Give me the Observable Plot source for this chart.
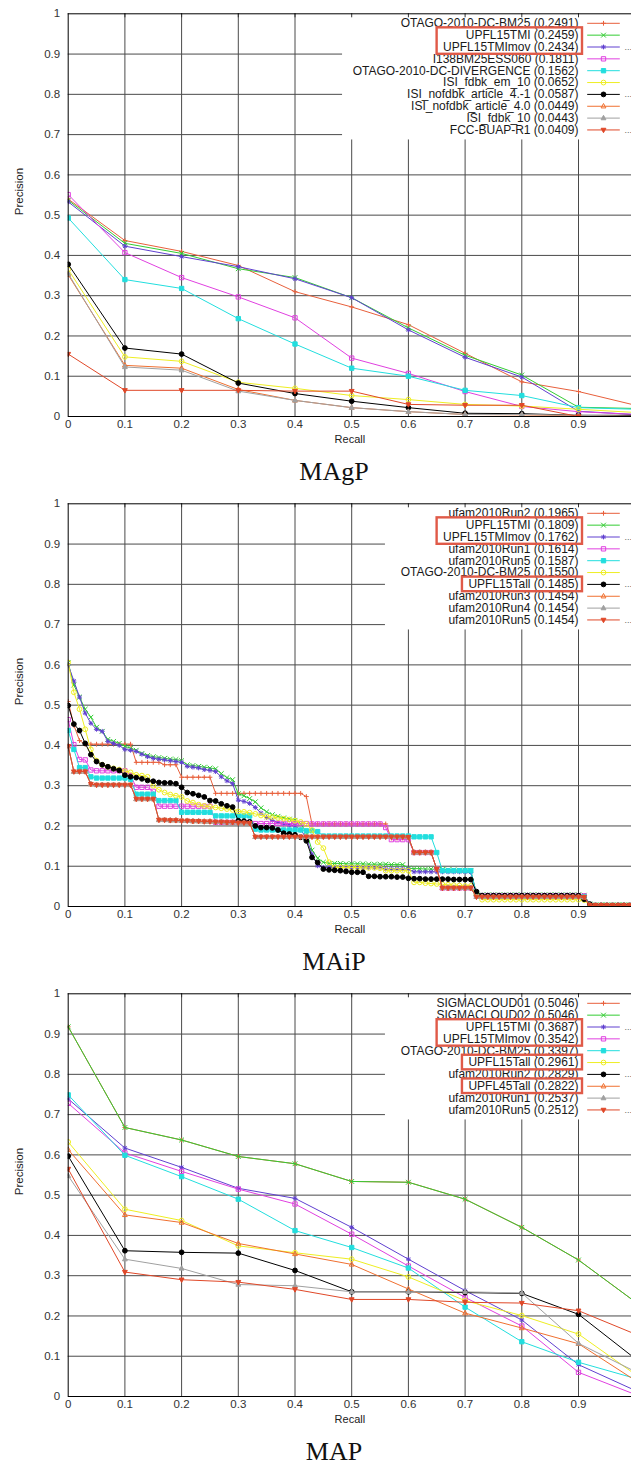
<!DOCTYPE html>
<html>
<head>
<meta charset="utf-8">
<script src="https://cdn.jsdelivr.net/npm/d3@7"></script>
<script src="https://cdn.jsdelivr.net/npm/@observablehq/plot@0.6"></script>
<style>
html, body { margin:0; padding:0; background:#fff; overflow:hidden; }
#root { width:631px; }
.panel { position:relative; width:631px; height:490px; overflow:hidden; }
.panel svg { position:absolute; left:0; top:0; }
.cap { position:absolute; left:0; width:668px; top:459px; text-align:center;
       font-family:"Liberation Serif","DejaVu Serif",serif; font-size:26px; line-height:26px; color:#111; }
</style>
</head>
<body>
<div id="root"></div>
<script>
// ---------------- DATA ----------------
const recallCoarse = [0, 0.1, 0.2, 0.3, 0.4, 0.5, 0.6, 0.7, 0.8, 0.9, 1.0];
const recallFine = d3.range(0, 101).map(i => i / 100);
const xTickValues = [0, 0.1, 0.2, 0.3, 0.4, 0.5, 0.6, 0.7, 0.8, 0.9];
const yTickValues = [0, 0.1, 0.2, 0.3, 0.4, 0.5, 0.6, 0.7, 0.8, 0.9, 1];
const gridValues = [0.1, 0.2, 0.3, 0.4, 0.5, 0.6, 0.7, 0.8, 0.9];

// MAgP panel
const magpLabels = ["OTAGO-2010-DC-BM25", "UPFL15TMI", "UPFL15TMImov", "I138BM25ESS060",
  "OTAGO-2010-DC-DIVERGENCE", "ISI_fdbk_em_10", "ISI_nofdbk_article_4.-1",
  "ISI_nofdbk_article_4.0", "ISI_fdbk_10", "FCC-BUAP-R1"];
const magpScores = ["0.2491", "0.2459", "0.2434", "0.1811", "0.1562", "0.0652", "0.0587", "0.0449", "0.0443", "0.0409"];
const magpOtagoBM25   = [0.540, 0.437, 0.410, 0.375, 0.310, 0.272, 0.228, 0.157, 0.086, 0.062, 0.028];
const magpTMI         = [0.537, 0.430, 0.405, 0.367, 0.345, 0.295, 0.220, 0.152, 0.103, 0.023, 0.020];
const magpTMImov      = [0.533, 0.423, 0.397, 0.372, 0.342, 0.295, 0.215, 0.147, 0.098, 0.013, 0.005];
const magpI138        = [0.551, 0.407, 0.345, 0.297, 0.245, 0.145, 0.107, 0.062, 0.025, 0.012, 0.005];
const magpOtagoDiv    = [0.493, 0.340, 0.318, 0.243, 0.180, 0.120, 0.100, 0.065, 0.052, 0.022, 0.018];
const magpIsiEm10     = [0.365, 0.148, 0.137, 0.085, 0.070, 0.052, 0.042, 0.030, 0.026, 0.018, 0.010];
const magpIsiNof41    = [0.378, 0.170, 0.155, 0.083, 0.057, 0.038, 0.022, 0.008, 0.007, 0.003, 0.003];
const magpIsiNof40    = [0.352, 0.127, 0.120, 0.067, 0.040, 0.022, 0.012, 0.005, 0.004, 0.002, 0.000];
const magpIsiFdbk10   = [0.355, 0.123, 0.115, 0.063, 0.040, 0.022, 0.012, 0.005, 0.005, 0.003, 0.000];
const magpFcc         = [0.155, 0.065, 0.065, 0.065, 0.063, 0.063, 0.030, 0.028, 0.028, 0.000, 0.000];

// MAiP panel (interpolated precision at 101 recall levels)
const maipLabels = ["ufam2010Run2", "UPFL15TMI", "UPFL15TMImov", "ufam2010Run1", "ufam2010Run5",
  "OTAGO-2010-DC-BM25", "UPFL15Tall", "ufam2010Run3", "ufam2010Run4", "ufam2010Run5"];
const maipScores = ["0.1965", "0.1809", "0.1762", "0.1614", "0.1587", "0.1550", "0.1485", "0.1454", "0.1454", "0.1454"];
const maipRun2 = [
  0.509,0.45,0.412,0.403,0.403,0.403,0.403,0.403,0.403,0.403,
  0.403,0.403,0.358,0.358,0.358,0.358,0.358,0.352,0.352,0.352,
  0.321,0.321,0.321,0.321,0.321,0.321,0.281,0.281,0.281,0.281,
  0.281,0.281,0.281,0.281,0.281,0.281,0.281,0.281,0.281,0.281,
  0.281,0.281,0.273,0.205,0.205,0.205,0.205,0.205,0.205,0.205,
  0.205,0.205,0.205,0.205,0.205,0.205,0.205,0.17,0.17,0.17,
  0.17,0.134,0.134,0.134,0.134,0.093,0.046,0.046,0.046,0.046,
  0.046,0.046,0.026,0.026,0.026,0.026,0.026,0.026,0.026,0.026,
  0.026,0.026,0.026,0.026,0.026,0.026,0.026,0.026,0.026,0.026,
  0.026,0.025,0.003,0.003,0.003,0.003,0.003,0.003,0.003,0.003,
  0.003];
const maipTMI = [
  0.605,0.55,0.52,0.49,0.47,0.445,0.435,0.415,0.41,0.405,
  0.398,0.393,0.388,0.38,0.375,0.372,0.37,0.368,0.366,0.365,
  0.362,0.352,0.35,0.348,0.346,0.344,0.342,0.33,0.32,0.315,
  0.28,0.275,0.268,0.26,0.245,0.235,0.228,0.224,0.22,0.217,
  0.214,0.205,0.185,0.14,0.12,0.11,0.107,0.107,0.107,0.106,
  0.106,0.106,0.106,0.105,0.105,0.105,0.105,0.104,0.104,0.104,
  0.095,0.094,0.094,0.093,0.093,0.092,0.092,0.091,0.091,0.09,
  0.09,0.089,0.033,0.029,0.029,0.029,0.029,0.029,0.029,0.029,
  0.029,0.029,0.029,0.029,0.029,0.029,0.029,0.029,0.029,0.029,
  0.029,0.028,0.006,0.004,0.004,0.004,0.004,0.004,0.004,0.004,
  0.004];
const maipTMImov = [
  0.6,0.56,0.52,0.48,0.455,0.44,0.435,0.41,0.405,0.4,
  0.39,0.388,0.385,0.378,0.372,0.368,0.366,0.364,0.362,0.36,
  0.358,0.348,0.346,0.344,0.34,0.338,0.335,0.322,0.312,0.305,
  0.264,0.261,0.256,0.246,0.232,0.221,0.214,0.209,0.205,0.202,
  0.2,0.19,0.171,0.13,0.101,0.097,0.097,0.097,0.097,0.097,
  0.097,0.097,0.097,0.097,0.097,0.097,0.093,0.093,0.093,0.093,
  0.093,0.086,0.086,0.086,0.086,0.086,0.086,0.086,0.086,0.086,
  0.086,0.085,0.032,0.028,0.028,0.028,0.028,0.028,0.028,0.028,
  0.028,0.028,0.028,0.028,0.028,0.028,0.028,0.028,0.028,0.028,
  0.028,0.027,0.005,0.004,0.004,0.004,0.004,0.004,0.004,0.004,
  0.004];
const maipRun1 = [
  0.464,0.402,0.365,0.364,0.339,0.337,0.337,0.337,0.337,0.337,
  0.337,0.325,0.296,0.296,0.296,0.286,0.249,0.249,0.249,0.249,
  0.249,0.249,0.249,0.249,0.249,0.249,0.209,0.209,0.209,0.209,
  0.209,0.209,0.209,0.206,0.206,0.206,0.206,0.206,0.206,0.206,
  0.206,0.206,0.206,0.205,0.205,0.205,0.205,0.205,0.205,0.205,
  0.205,0.205,0.205,0.205,0.205,0.205,0.196,0.166,0.166,0.166,
  0.166,0.134,0.134,0.134,0.134,0.093,0.046,0.046,0.046,0.046,
  0.046,0.046,0.027,0.027,0.027,0.027,0.027,0.027,0.027,0.027,
  0.027,0.027,0.027,0.027,0.027,0.027,0.027,0.027,0.027,0.027,
  0.027,0.026,0.0,0.0,0.0,0.0,0.0,0.0,0.0,0.0,
  0.0];
const maipRun5 = [
  0.437,0.39,0.345,0.345,0.322,0.319,0.319,0.319,0.319,0.319,
  0.319,0.316,0.279,0.279,0.279,0.279,0.263,0.263,0.263,0.263,
  0.234,0.234,0.234,0.234,0.234,0.234,0.225,0.225,0.225,0.225,
  0.225,0.225,0.225,0.192,0.19,0.19,0.19,0.19,0.19,0.19,
  0.19,0.19,0.188,0.188,0.186,0.175,0.175,0.175,0.175,0.175,
  0.175,0.175,0.175,0.175,0.175,0.175,0.175,0.175,0.175,0.175,
  0.175,0.173,0.173,0.173,0.173,0.134,0.089,0.089,0.089,0.089,
  0.089,0.089,0.03,0.025,0.025,0.025,0.025,0.025,0.025,0.025,
  0.025,0.025,0.025,0.025,0.025,0.025,0.025,0.025,0.025,0.025,
  0.025,0.024,0.0,0.0,0.0,0.0,0.0,0.0,0.0,0.0,
  0.0];
const maipOtago = [
  0.606,0.532,0.49,0.44,0.39,0.362,0.352,0.347,0.343,0.34,
  0.336,0.333,0.327,0.325,0.322,0.3,0.29,0.283,0.278,0.275,
  0.272,0.262,0.258,0.253,0.25,0.248,0.246,0.244,0.242,0.24,
  0.236,0.235,0.233,0.23,0.226,0.223,0.222,0.22,0.218,0.216,
  0.213,0.21,0.205,0.19,0.16,0.145,0.11,0.097,0.097,0.097,
  0.097,0.097,0.096,0.096,0.096,0.095,0.089,0.089,0.089,0.089,
  0.089,0.06,0.06,0.058,0.057,0.056,0.055,0.054,0.053,0.052,
  0.051,0.051,0.03,0.017,0.017,0.017,0.017,0.017,0.017,0.017,
  0.017,0.017,0.017,0.017,0.017,0.017,0.017,0.017,0.017,0.017,
  0.017,0.016,0.002,0.002,0.002,0.002,0.002,0.002,0.002,0.002,
  0.002];
const maipTall = [
  0.499,0.453,0.437,0.405,0.377,0.36,0.352,0.347,0.342,0.338,
  0.326,0.322,0.32,0.317,0.313,0.311,0.308,0.307,0.307,0.305,
  0.296,0.283,0.28,0.276,0.272,0.263,0.262,0.255,0.25,0.247,
  0.213,0.212,0.21,0.2,0.196,0.196,0.195,0.19,0.182,0.18,
  0.178,0.172,0.163,0.122,0.109,0.093,0.091,0.09,0.089,0.087,
  0.085,0.085,0.085,0.075,0.075,0.074,0.074,0.074,0.073,0.073,
  0.07,0.069,0.069,0.068,0.068,0.068,0.068,0.068,0.067,0.067,
  0.067,0.067,0.037,0.027,0.027,0.027,0.027,0.027,0.027,0.027,
  0.027,0.027,0.027,0.027,0.027,0.027,0.027,0.027,0.027,0.027,
  0.027,0.018,0.006,0.003,0.003,0.003,0.003,0.003,0.003,0.003,
  0.003];
const maipRun3 = [
  0.398,0.335,0.335,0.335,0.304,0.302,0.302,0.302,0.302,0.302,
  0.302,0.302,0.267,0.267,0.267,0.267,0.215,0.215,0.214,0.214,
  0.213,0.213,0.212,0.212,0.211,0.211,0.21,0.21,0.209,0.209,
  0.208,0.208,0.207,0.173,0.173,0.173,0.173,0.173,0.173,0.173,
  0.173,0.173,0.173,0.173,0.173,0.173,0.173,0.173,0.173,0.173,
  0.173,0.173,0.173,0.173,0.173,0.173,0.173,0.173,0.173,0.173,
  0.172,0.134,0.134,0.134,0.134,0.093,0.046,0.046,0.046,0.046,
  0.046,0.046,0.024,0.024,0.024,0.024,0.024,0.024,0.024,0.024,
  0.024,0.024,0.024,0.024,0.024,0.024,0.024,0.024,0.024,0.024,
  0.024,0.023,0.003,0.003,0.003,0.003,0.003,0.003,0.003,0.003,
  0.003];
const maipRun4 = maipRun3;   // identical MAiP (0.1454), curves coincide
const maipRun5b = maipRun3;

// MAP panel
const mapLabels = ["SIGMACLOUD01", "SIGMACLOUD02", "UPFL15TMI", "UPFL15TMImov", "OTAGO-2010-DC-BM25",
  "UPFL15Tall", "ufam2010Run2", "UPFL45Tall", "ufam2010Run1", "ufam2010Run5"];
const mapScores = ["0.5046", "0.5046", "0.3687", "0.3542", "0.3397", "0.2961", "0.2829", "0.2822", "0.2537", "0.2512"];
const mapSigma01  = [0.918, 0.668, 0.637, 0.596, 0.578, 0.534, 0.532, 0.490, 0.420, 0.339, 0.235];
const mapSigma02  = [0.918, 0.668, 0.637, 0.596, 0.578, 0.534, 0.532, 0.490, 0.420, 0.339, 0.235];
const mapTMI      = [0.739, 0.617, 0.569, 0.517, 0.492, 0.420, 0.341, 0.263, 0.190, 0.079, 0.015];
const mapTMImov   = [0.728, 0.605, 0.559, 0.515, 0.478, 0.403, 0.324, 0.246, 0.175, 0.060, 0.005];
const mapOtago    = [0.749, 0.599, 0.546, 0.490, 0.412, 0.370, 0.319, 0.222, 0.136, 0.085, 0.045];
const mapTall15   = [0.632, 0.465, 0.437, 0.374, 0.357, 0.341, 0.297, 0.238, 0.201, 0.155, 0.055];
const mapRun2     = [0.597, 0.362, 0.358, 0.356, 0.313, 0.260, 0.260, 0.258, 0.256, 0.204, 0.094];
const mapTall45   = [0.613, 0.451, 0.432, 0.380, 0.354, 0.328, 0.267, 0.207, 0.170, 0.131, 0.040];
const mapRun1     = [0.548, 0.341, 0.318, 0.278, 0.275, 0.260, 0.260, 0.260, 0.257, 0.132, 0.062];
const mapRun5     = [0.565, 0.309, 0.290, 0.284, 0.266, 0.241, 0.241, 0.234, 0.232, 0.213, 0.155];

// ---------------- STYLES ----------------
const seriesColors = ["#e8603c", "#33cc33", "#6040d0", "#e040e0", "#22dede", "#eeee22",
                      "#000000", "#f07030", "#a0a0a0", "#e04828"];
function mk(fn) { return { draw(ctx, size) { fn(ctx, Math.sqrt(size / Math.PI)); } }; }
const symPlus  = mk((c, h) => { c.moveTo(-h, 0); c.lineTo(h, 0); c.moveTo(0, -h); c.lineTo(0, h); });
const symTimes = mk((c, h) => { c.moveTo(-h, -h); c.lineTo(h, h); c.moveTo(-h, h); c.lineTo(h, -h); });
const symStar  = mk((c, h) => { c.moveTo(-h, 0); c.lineTo(h, 0); c.moveTo(0, -h); c.lineTo(0, h);
                                const q = h * 0.75; c.moveTo(-q, -q); c.lineTo(q, q); c.moveTo(-q, q); c.lineTo(q, -q); });
const symBox   = mk((c, h) => { c.rect(-h * 0.9, -h * 0.9, h * 1.8, h * 1.8); });
const symCirc  = mk((c, h) => { c.moveTo(h, 0); c.arc(0, 0, h, 0, 2 * Math.PI); });
const symUp    = mk((c, h) => { c.moveTo(0, -h * 1.15); c.lineTo(h, h * 0.7); c.lineTo(-h, h * 0.7); c.closePath(); });
const symDown  = mk((c, h) => { c.moveTo(0, h * 1.15); c.lineTo(h, -h * 0.7); c.lineTo(-h, -h * 0.7); c.closePath(); });
const seriesSymbols = [symPlus, symTimes, symStar, symBox, symBox, symCirc, symCirc, symUp, symUp, symDown];
const seriesFilled  = [false, false, false, false, true, false, true, false, true, true];

// pixel <-> data helpers for the in-frame key (layout only)
const PX0 = 67.7, PXU = 567, PY0 = 416, PYU = 402.7;
const fx = px => (px - PX0) / PXU;
const fy = py => (PY0 - py) / PYU;
const rowPy = i => 22.8 + i * 11.85;

const measure = (() => { const c = document.createElement("canvas").getContext("2d");
  c.font = "12px 'Liberation Sans', Arial, sans-serif"; return t => c.measureText(t).width; })();

function makePanel(labels, scores, values, recall, highlights, caption) {
  const entries = labels.map((l, i) => ({ i, text: `${l} (${scores[i]})` }));
  const maxChars = d3.max(entries, d => d.text.length);
  const boxLeft = 578 - maxChars * 7.15;
  const marks = [];
  marks.push(Plot.ruleY(gridValues, { stroke: "#4a4a4a", strokeWidth: 1 }));
  marks.push(Plot.ruleX(gridValues, { stroke: "#4a4a4a", strokeWidth: 1 }));
  // opaque key background
  marks.push(Plot.rect([0], { x1: fx(boxLeft), x2: 1.05, y1: fy(rowPy(9) + 10), y2: 1, fill: "white" }));
  // series
  values.forEach((vals, i) => {
    const data = vals.map((v, j) => ({ r: recall[j], p: v }));
    marks.push(Plot.line(data, { x: "r", y: "p", stroke: seriesColors[i], strokeWidth: 1, clip: true }));
    marks.push(Plot.dot(data, { x: "r", y: "p", r: 2.4, symbol: seriesSymbols[i],
      fill: seriesFilled[i] ? seriesColors[i] : "none", stroke: seriesColors[i], strokeWidth: 1, clip: true }));
  });
  // key
  marks.push(Plot.text(entries, { x: fx(578), y: d => fy(rowPy(d.i)), text: "text", textAnchor: "end",
    fontSize: 12, fill: "#1a1a1a" }));
  entries.forEach(d => {
    const y = fy(rowPy(d.i));
    marks.push(Plot.link([d], { x1: fx(586.7), x2: fx(619.3), y1: y, y2: y, stroke: seriesColors[d.i], strokeWidth: 1 }));
    marks.push(Plot.dot([d], { x: fx(603), y: y, r: 2.4, symbol: seriesSymbols[d.i],
      fill: seriesFilled[d.i] ? seriesColors[d.i] : "none", stroke: seriesColors[d.i], strokeWidth: 1 }));
  });
  marks.push(Plot.text(entries.filter(d => [2, 6, 9].includes(d.i)), { x: fx(624), y: d => fy(rowPy(d.i)),
    text: () => "...", textAnchor: "start", fontSize: 9, fill: "#666" }));
  // highlight boxes
  const hl = highlights.map(([a, b]) => {
    const w = d3.max(d3.range(a, b + 1), k => measure(entries[k].text));
    return { x1: fx(578 - w - 6), x2: fx(582), y1: fy(rowPy(b) + 7.3), y2: fy(rowPy(a) - 7.3) };
  });
  marks.push(Plot.rect(hl, { x1: "x1", x2: "x2", y1: "y1", y2: "y2", fill: "none", stroke: "#e05a48", strokeWidth: 2.4 }));
  // top-frame ticks visible through the key
  marks.push(Plot.ruleX(gridValues, { y1: 1, y2: fy(13.3 + 4), stroke: "#333" }));
  // frame (left, bottom, top)
  marks.push(Plot.ruleY([0, 1], { stroke: "#000", strokeWidth: 1 }));
  marks.push(Plot.ruleX([0], { stroke: "#000", strokeWidth: 1 }));
  // tick labels
  marks.push(Plot.text(xTickValues, { x: d => d, frameAnchor: "bottom", dy: 11, text: d => String(d),
    fontSize: 11.5, fill: "#333" }));
  marks.push(Plot.text(yTickValues, { y: d => d, frameAnchor: "left", dx: -8, textAnchor: "end",
    text: d => String(d), fontSize: 11.5, fill: "#333" }));
  // axis titles
  marks.push(Plot.text(["Recall"], { frameAnchor: "bottom", dy: 26, text: d => d, fontSize: 11, fill: "#222" }));
  marks.push(Plot.text(["Precision"], { frameAnchor: "left", dx: -49, rotate: -90, text: d => d, fontSize: 11.5, fill: "#222" }));

  const svg = Plot.plot({
    width: 631, height: 445,
    marginLeft: 67.7, marginRight: 0, marginTop: 13.3, marginBottom: 29,
    x: { domain: [0, 1], range: [67.7, 634.7], axis: null },
    y: { domain: [0, 1], range: [416, 13.3], axis: null },
    style: { fontFamily: "'Liberation Sans', Arial, sans-serif", fontSize: "11.5px", color: "#333",
             background: "transparent", overflow: "hidden" },
    marks
  });
  const div = document.createElement("div");
  div.className = "panel";
  div.appendChild(svg);
  const cap = document.createElement("div");
  cap.className = "cap";
  cap.textContent = caption;
  div.appendChild(cap);
  document.getElementById("root").appendChild(div);
}

makePanel(magpLabels, magpScores,
  [magpOtagoBM25, magpTMI, magpTMImov, magpI138, magpOtagoDiv, magpIsiEm10, magpIsiNof41, magpIsiNof40, magpIsiFdbk10, magpFcc],
  recallCoarse, [[1, 2]], "MAgP");
makePanel(maipLabels, maipScores,
  [maipRun2, maipTMI, maipTMImov, maipRun1, maipRun5, maipOtago, maipTall, maipRun3, maipRun4, maipRun5b],
  recallFine, [[1, 2], [6, 6]], "MAiP");
makePanel(mapLabels, mapScores,
  [mapSigma01, mapSigma02, mapTMI, mapTMImov, mapOtago, mapTall15, mapRun2, mapTall45, mapRun1, mapRun5],
  recallCoarse, [[2, 3], [5, 5], [7, 7]], "MAP");
</script>
</body>
</html>
